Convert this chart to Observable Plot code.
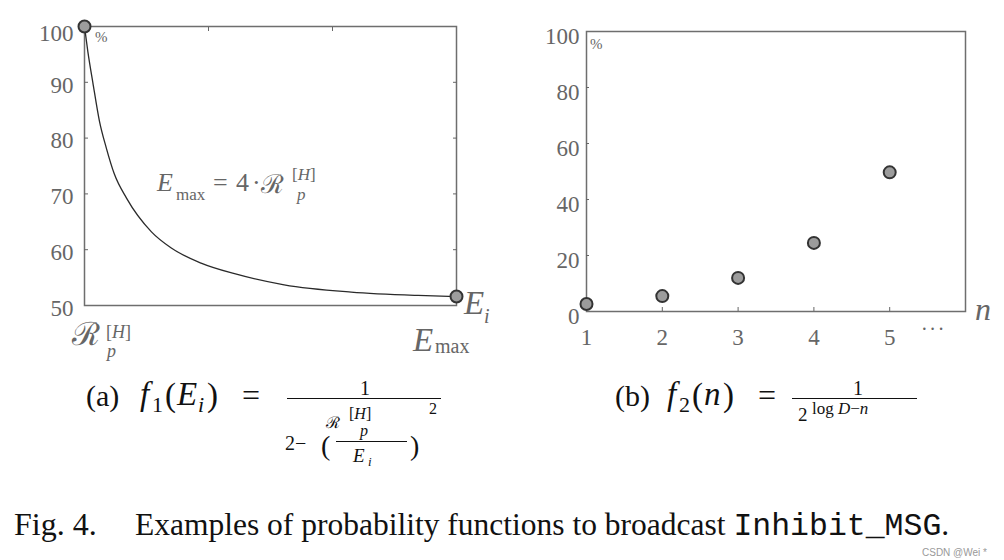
<!DOCTYPE html>
<html><head><meta charset="utf-8">
<script src="https://cdn.jsdelivr.net/npm/d3@7"></script>
<script src="https://cdn.jsdelivr.net/npm/@observablehq/plot@0.6"></script>
<style>
body{margin:0;background:#fff;}
#wrap{position:relative;width:1004px;height:560px;font-family:"Liberation Serif",serif;overflow:hidden;background:#fff;}
#wrap svg{position:absolute;top:0;}
#wrap svg text{font-family:"Liberation Serif",serif;}
.t{position:absolute;white-space:nowrap;line-height:1;color:#111;}
.g{color:#666;}
.cal{font-family:"DejaVu Serif Condensed","DejaVu Serif",serif;}
.bar{position:absolute;height:0;border-top:1px solid #111;}
.mono{font-family:"Liberation Mono",monospace;line-height:1;}
</style></head><body><div id="wrap"></div>
<script>
// ---- data (a): f1(E_i) in %, E_i in units of R_p^[H]
const energyRatio = [1, 1.027, 1.067, 1.12, 1.175, 1.24, 1.34, 1.54, 1.70, 1.94, 2.21, 2.61, 3.15, 3.69, 4];
const f1Percent   = [100, 95.5, 90, 83.1, 78.3, 73.6, 69.2, 63.2, 60.3, 57.6, 55.7, 53.7, 52.4, 51.8, 51.6];
const endRatio    = [1, 4];
const endPercent  = [100, 51.6];
const leftYTicks  = [50, 60, 70, 80, 90, 100];
// ---- data (b): f2(n) in %
const nValues     = [1, 2, 3, 4, 5];
const f2Percent   = [2.7, 5.5, 12, 24.5, 49.7];
const rightYTicks = [0, 20, 40, 60, 80, 100];
const rightXTicks = [1, 2, 3, 4, 5];

const curve = energyRatio.map((x, i) => ({x, y: f1Percent[i]}));
const ends = endRatio.map((x, i) => ({x, y: endPercent[i]}));
const pts = nValues.map((x, i) => ({x, y: f2Percent[i]}));
const blank = () => "";
const SERIF = "'Liberation Serif',serif";

const common = {fontFamily: SERIF, fontSize: "23px", color: "#666", background: "transparent", overflow: "visible"};

const left = Plot.plot({
  width: 500, height: 370,
  marginLeft: 84, marginRight: 44, marginTop: 26, marginBottom: 65,
  x: {domain: [1, 4]}, y: {domain: [50, 100]},
  style: common,
  marks: [
    Plot.frame({stroke: "#6e6e6e", strokeWidth: 1.5}),
    Plot.axisY({ticks: leftYTicks.filter(d => d < 100), tickSize: 0, tickPadding: 11, dy: 3, label: null}),
    Plot.axisY({ticks: [100], tickSize: 0, tickPadding: 11, dy: 7, label: null}),
    Plot.axisY({ticks: [60, 70, 80, 90], tickSize: -4, tickFormat: blank, label: null}),
    Plot.axisY({anchor: "right", ticks: [60, 70, 80, 90], tickSize: -4, tickFormat: blank, label: null}),
    Plot.axisX({anchor: "top", ticks: [2, 3], tickSize: -4, tickFormat: blank, label: null}),
    Plot.line(curve, {x: "x", y: "y", curve: "monotone-x", stroke: "#2a2a2a", strokeWidth: 1.3}),
    Plot.dot(ends, {x: "x", y: "y", r: 6, fill: "#9c9c9c", stroke: "#333", strokeWidth: 2})
  ]
});

const right = Plot.plot({
  width: 504, height: 370,
  marginLeft: 86, marginRight: 39, marginTop: 31, marginBottom: 59,
  x: {domain: [1, 6]}, y: {domain: [0, 100]},
  style: common,
  marks: [
    Plot.frame({stroke: "#6e6e6e", strokeWidth: 1.5}),
    Plot.axisY({ticks: rightYTicks, tickSize: 0, tickPadding: 7, dy: 5.5, label: null}),
    Plot.axisY({ticks: [20, 40, 60, 80], tickSize: -3, tickFormat: blank, label: null}),
    Plot.axisX({ticks: rightXTicks, tickSize: 0, tickPadding: 17, tickFormat: d => String(d), label: null}),
    Plot.axisX({ticks: [2, 3, 4, 5], tickSize: -4, tickFormat: blank, label: null}),
    Plot.dot(pts, {x: "x", y: "y", r: 6, fill: "#9c9c9c", stroke: "#333", strokeWidth: 2})
  ]
});

const wrap = document.getElementById("wrap");
left.style.left = "0px";
right.style.left = "500px";
wrap.appendChild(left);
wrap.appendChild(right);

// text helper: x = left edge, b = baseline, s = font size
function T(x, b, html, s, cls = "", extra = "") {
  const d = document.createElement("div");
  d.className = "t " + cls;
  d.style.left = x + "px";
  d.style.top = (b - 0.8375 * s) + "px";
  d.style.fontSize = s + "px";
  if (extra) d.style.cssText += extra;
  d.innerHTML = html;
  wrap.appendChild(d);
  return d;
}
function BAR(x1, x2, y) {
  const d = document.createElement("div");
  d.className = "bar";
  d.style.left = x1 + "px"; d.style.width = (x2 - x1) + "px"; d.style.top = y + "px";
  wrap.appendChild(d);
}

// panel (a) annotations
T(95, 43, "%", 15, "g");
T(157, 192, "<i>E</i>", 26, "g");
T(176, 200, "max", 17, "g");
T(213, 192, "=", 26, "g");
T(236, 192, "4", 26, "g");
T(252, 192, "·", 26, "g");
T(261, 193, "ℛ", 26, "g cal");
T(292, 180, "[<i>H</i>]", 17, "g");
T(297, 200, "<i>p</i>", 17, "g");
T(72, 345, "ℛ", 32, "g cal");
T(106, 338, "[<i>H</i>]", 18, "g");
T(107, 357, "<i>p</i>", 18, "g");
T(413, 352, "<i>E</i>", 33, "g");
T(435, 353, "max", 20, "g");
T(464, 315, "<i>E</i>", 33, "g");
T(484, 323, "<i>i</i>", 20, "g");

// panel (b) annotations
T(590, 50, "%", 15, "g");
T(975, 320, "<i>n</i>", 32, "g");
T(921, 336, "·&#8202;·&#8202;·", 20, "g");

// sub-caption (a)
T(86, 406, "(a)", 30);
T(140, 406, "<i>f</i>", 33);
T(152, 412, "1", 22);
T(165, 407, "(", 33);
T(177, 406, "<i>E</i>", 33);
T(198, 412, "<i>i</i>", 22);
T(207, 407, ")", 33);
T(242, 406, "=", 32);
T(360, 395, "1", 20);
BAR(287, 441, 398);
T(429, 414, "2", 16);
T(349, 419, "[<i>H</i>]", 16);
T(326, 428, "ℛ", 16, "cal");
T(360, 436, "<i>p</i>", 16);
T(285, 450, "2−", 20);
T(321, 455, "(", 28);
BAR(336, 407, 441);
T(353, 462, "<i>E</i>", 19);
T(368, 466, "<i>i</i>", 13);
T(410, 455, ")", 28);

// sub-caption (b)
T(615, 406, "(b)", 30);
T(667, 406, "<i>f</i>", 33);
T(679, 412, "2", 22);
T(692, 407, "(", 33);
T(704, 406, "<i>n</i>", 33);
T(723, 407, ")", 33);
T(758, 406, "=", 32);
T(853, 395, "1", 20);
BAR(792, 917, 398);
T(798, 421, "2", 19);
T(812, 414, "log&nbsp;<i>D</i>−<i>n</i>", 17);

// figure caption
T(14, 535, "Fig. 4.", 32);
T(135, 535, "Examples of probability functions to broadcast <span class='mono'>Inhibit_MSG</span>.", 31.5);
T(922, 556, "CSDN @Wei *", 10, "", "font-family:'Liberation Sans',sans-serif;color:#999;");
</script>
</body></html>
